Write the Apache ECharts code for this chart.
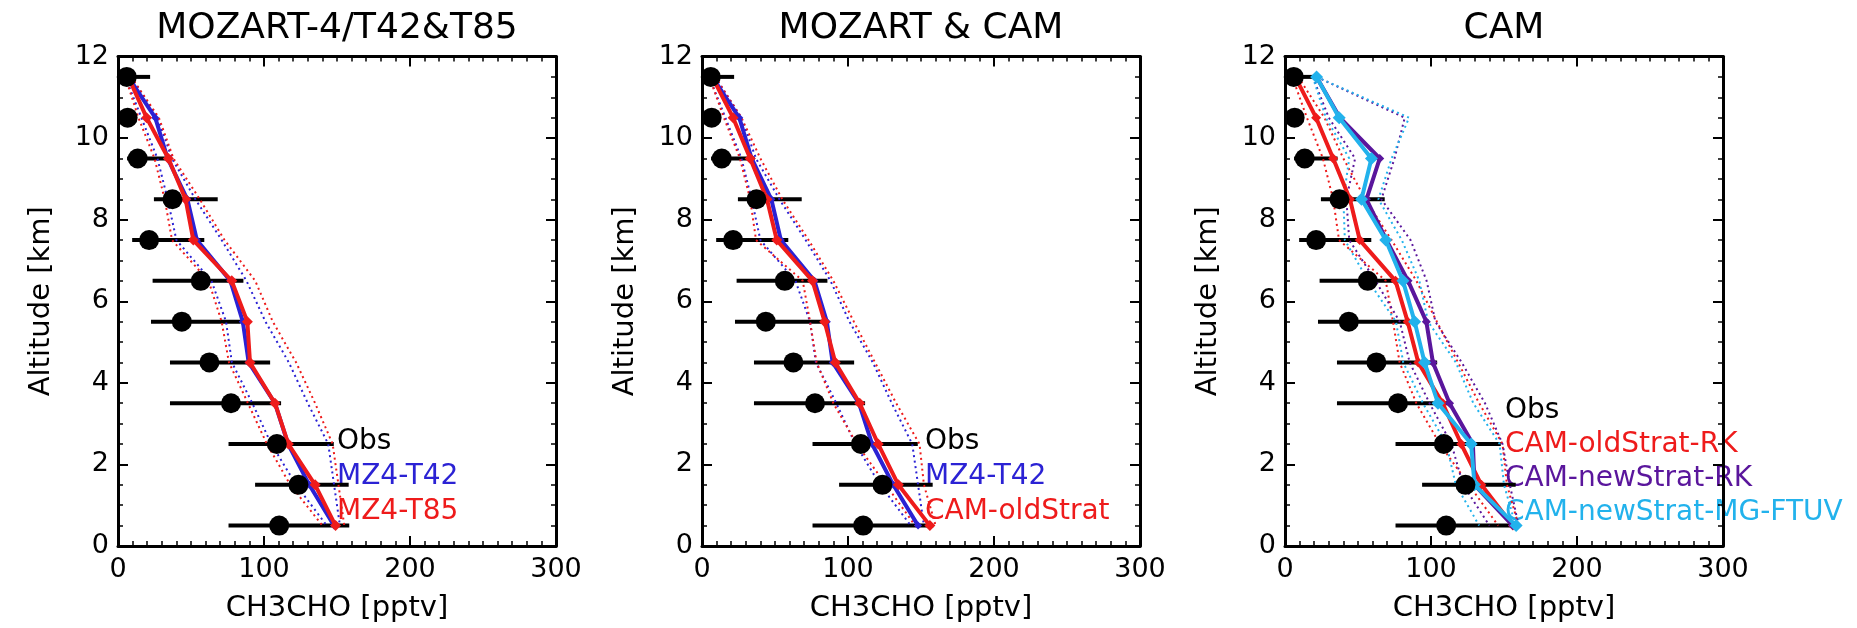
<!DOCTYPE html>
<html><head><meta charset="utf-8">
<script src="https://cdn.jsdelivr.net/npm/echarts@6/dist/echarts.min.js"></script>
<style>html,body{margin:0;padding:0;background:#fff}#c{width:1857px;height:628px}</style>
</head><body><div id="c"></div>
<script>
// ---------- data ----------
const altitudes = [11.5, 10.5, 9.5, 8.5, 7.5, 6.5, 5.5, 4.5, 3.5, 2.5, 1.5, 0.5];
const obsMean = [6.0, 6.6, 13.5, 37.3, 21.3, 56.7, 43.7, 62.6, 77.4, 108.8, 123.6, 110.4];
const obsLow  = [1.5, 3.5, 6.2, 24.6, 9.7, 23.7, 22.6, 35.6, 35.6, 75.7, 93.9, 75.7];
const obsHigh = [22.0, 9.5, 36.0, 68.3, 59.1, 85.9, 84.0, 104.2, 111.7, 147.8, 158.0, 158.4];

const mz4T42     = [7, 25.5, 34, 47.5, 54, 77, 85.5, 89.5, 107.5, 116.5, 131, 148];
const mz4T42Low  = [5, 16, 27, 34, 40, 64, 74, 78, 92, 105, 122, 143];
const mz4T42High = [9, 27, 37, 53, 71, 88, 101, 117, 130, 144, 148, 152];

const mz4T85     = [7, 19.6, 34.5, 46.3, 51.6, 77.9, 88.6, 90.4, 107.5, 116.7, 135, 149];
const mz4T85Low  = [5, 14, 25, 32, 37, 62, 71, 76, 89, 102, 118, 140];
const mz4T85High = [9, 28, 38, 56, 73, 94, 106, 122, 135, 147, 151, 155];

const camOld     = [7, 21.3, 33, 44.5, 51.2, 75.7, 84, 91.3, 108, 120.7, 134.5, 156.1];
const camOldLow  = [5, 15, 26, 33, 37, 69, 74, 78.5, 90, 106, 126, 146];
const camOldHigh = [9, 27, 40, 55, 73, 90, 104, 118.5, 133, 149, 152, 160];

const camNewRK     = [21.6, 37.6, 64.9, 55.8, 69.5, 84.3, 96.8, 101.3, 112.7, 128.7, 129.8, 156];
const camNewRKLow  = [19, 30, 48, 42, 44, 62, 78.6, 85.4, 99, 114, 122, 140];
const camNewRKHigh = [21.6, 82, 75, 66, 86, 97, 103, 121, 137, 149, 154, 160];

const camNewMG     = [21.6, 37.1, 59.2, 52.4, 69, 80.8, 88.8, 95.6, 104.8, 127.5, 129.8, 158.3];
const camNewMGLow  = [19, 28, 44, 40, 41, 57, 76, 81, 94.5, 110.5, 117, 133];
const camNewMGHigh = [21.6, 85, 73, 64, 80, 92, 98, 117, 129, 147, 150, 158];

const xTicks = [0, 100, 200, 300];
const yTicks = [0, 2, 4, 6, 8, 10, 12];
const titles = ['MOZART-4/T42&T85', 'MOZART & CAM', 'CAM'];
const xName = 'CH3CHO [pptv]';
const yName = 'Altitude [km]';

const RED = '#ee1b1b', BLUE = '#2b22d4', PURPLE = '#5a169c', CYAN = '#22b2ec';

// panel contents: [label, values, low, high, color, symbolSize]
const panels = [
  [['MZ4-T42', mz4T42, mz4T42Low, mz4T42High, BLUE, 8],
   ['MZ4-T85', mz4T85, mz4T85Low, mz4T85High, RED, 11]],
  [['MZ4-T42', mz4T42, mz4T42Low, mz4T42High, BLUE, 8],
   ['CAM-oldStrat', camOld, camOldLow, camOldHigh, RED, 11]],
  [['CAM-oldStrat-RK', camOld, camOldLow, camOldHigh, RED, 10],
   ['CAM-newStrat-RK', camNewRK, camNewRKLow, camNewRKHigh, PURPLE, 9],
   ['CAM-newStrat-MG-FTUV', camNewMG, camNewMGLow, camNewMGHigh, CYAN, 13]]
];

// ---------- layout ----------
const FONT = 'DejaVu Sans';
const gridLefts = [118, 702, 1285];
const GW = 438, GT = 56.5, GH = 490.5;

const grids = [], xAxes = [], yAxes = [], series = [], graphics = [];

const pair = (vals) => altitudes.map((a, i) => [vals[i], a]);

gridLefts.forEach((left, p) => {
  grids.push({left: left, top: GT, width: GW, height: GH, containLabel: false});
  const axLine = {show: true, onZero: false, lineStyle: {color: '#000', width: 3}};
  const tick = {show: true, inside: true, length: 10, lineStyle: {color: '#000', width: 2}};
  const xBase = {type: 'value', gridIndex: p, min: xTicks[0], max: xTicks[xTicks.length - 1],
    interval: xTicks[1] - xTicks[0], splitLine: {show: false}, axisLine: axLine, axisTick: tick,
    minorTick: {show: true, splitNumber: 10, length: 5, lineStyle: {color: '#000', width: 1.5}}};
  xAxes.push(Object.assign({}, xBase, {position: 'bottom',
    axisLabel: {show: true, color: '#000', fontSize: 27, fontFamily: FONT, margin: 10},
    name: xName, nameLocation: 'middle', nameGap: 48,
    nameTextStyle: {color: '#000', fontSize: 29, fontFamily: FONT}}));
  xAxes.push(Object.assign({}, xBase, {position: 'top', axisLabel: {show: false}}));
  const yBase = {type: 'value', gridIndex: p, min: yTicks[0], max: yTicks[yTicks.length - 1],
    interval: yTicks[1] - yTicks[0], splitLine: {show: false}, axisLine: axLine, axisTick: tick,
    minorTick: {show: true, splitNumber: 4, length: 5, lineStyle: {color: '#000', width: 1.5}}};
  yAxes.push(Object.assign({}, yBase, {position: 'left',
    axisLabel: {show: true, color: '#000', fontSize: 27, fontFamily: FONT, margin: 9},
    name: yName, nameLocation: 'middle', nameGap: 62, nameRotate: 90,
    nameTextStyle: {color: '#000', fontSize: 29, fontFamily: FONT}}));
  yAxes.push(Object.assign({}, yBase, {position: 'right', axisLabel: {show: false}}));

  const xi = 2 * p, yi = 2 * p;
  // obs error bars
  series.push({
    type: 'custom', xAxisIndex: xi, yAxisIndex: yi, z: 2, silent: true,
    data: altitudes.map((a, i) => [a, obsLow[i], obsHigh[i]]),
    encode: {x: [1, 2], y: 0},
    renderItem: function (params, api) {
      const y = api.value(0), lo = api.value(1), hi = api.value(2);
      const a = api.coord([lo, y]), b = api.coord([hi, y]);
      return {type: 'line', shape: {x1: a[0], y1: a[1], x2: b[0], y2: b[1]},
        style: {stroke: '#000', lineWidth: 4}};
    }
  });
  // obs dots (drawn above the model lines)
  series.push({type: 'scatter', xAxisIndex: xi, yAxisIndex: yi, z: 9, silent: true,
    symbol: 'circle', symbolSize: 20, itemStyle: {color: '#000', opacity: 1},
    data: pair(obsMean)});
  // model dotted ranges
  panels[p].forEach(m => {
    [m[2], m[3]].forEach(arr => {
      series.push({type: 'line', xAxisIndex: xi, yAxisIndex: yi, z: 4,
        showSymbol: false, symbol: 'none', silent: true,
        lineStyle: {color: m[4], width: 2, type: [2, 3.5]},
        data: pair(arr)});
    });
  });
  // model solid lines
  panels[p].forEach((m, k) => {
    series.push({type: 'line', name: m[0], xAxisIndex: xi, yAxisIndex: yi, z: 5 + k, silent: true,
      symbol: 'diamond', symbolSize: m[5], showSymbol: true,
      itemStyle: {color: m[4], opacity: 1}, lineStyle: {color: m[4], width: 4},
      data: pair(m[1])});
  });

  // title
  graphics.push({type: 'text', x: left + GW / 2, y: 29,
    style: {text: titles[p], fill: '#000', font: '36px "' + FONT + '"', align: 'center', verticalAlign: 'middle'}});
  // legend texts
  const lx = [337, 925, 1505][p];
  const entries = [['Obs', '#000']].concat(panels[p].map(m => [m[0], m[4]]));
  const ys = p < 2 ? [442, 477, 512] : [411, 445, 479, 513];
  entries.forEach((e, k) => {
    graphics.push({type: 'text', x: lx, y: ys[k],
      style: {text: e[0], fill: e[1], font: '28px "' + FONT + '"', align: 'left', verticalAlign: 'middle'}});
  });
});

const chart = echarts.init(document.getElementById('c'), null, {renderer: 'canvas'});
chart.setOption({
  backgroundColor: '#fff',
  animation: false,
  grid: grids, xAxis: xAxes, yAxis: yAxes, series: series, graphic: graphics
});
</script></body></html>
